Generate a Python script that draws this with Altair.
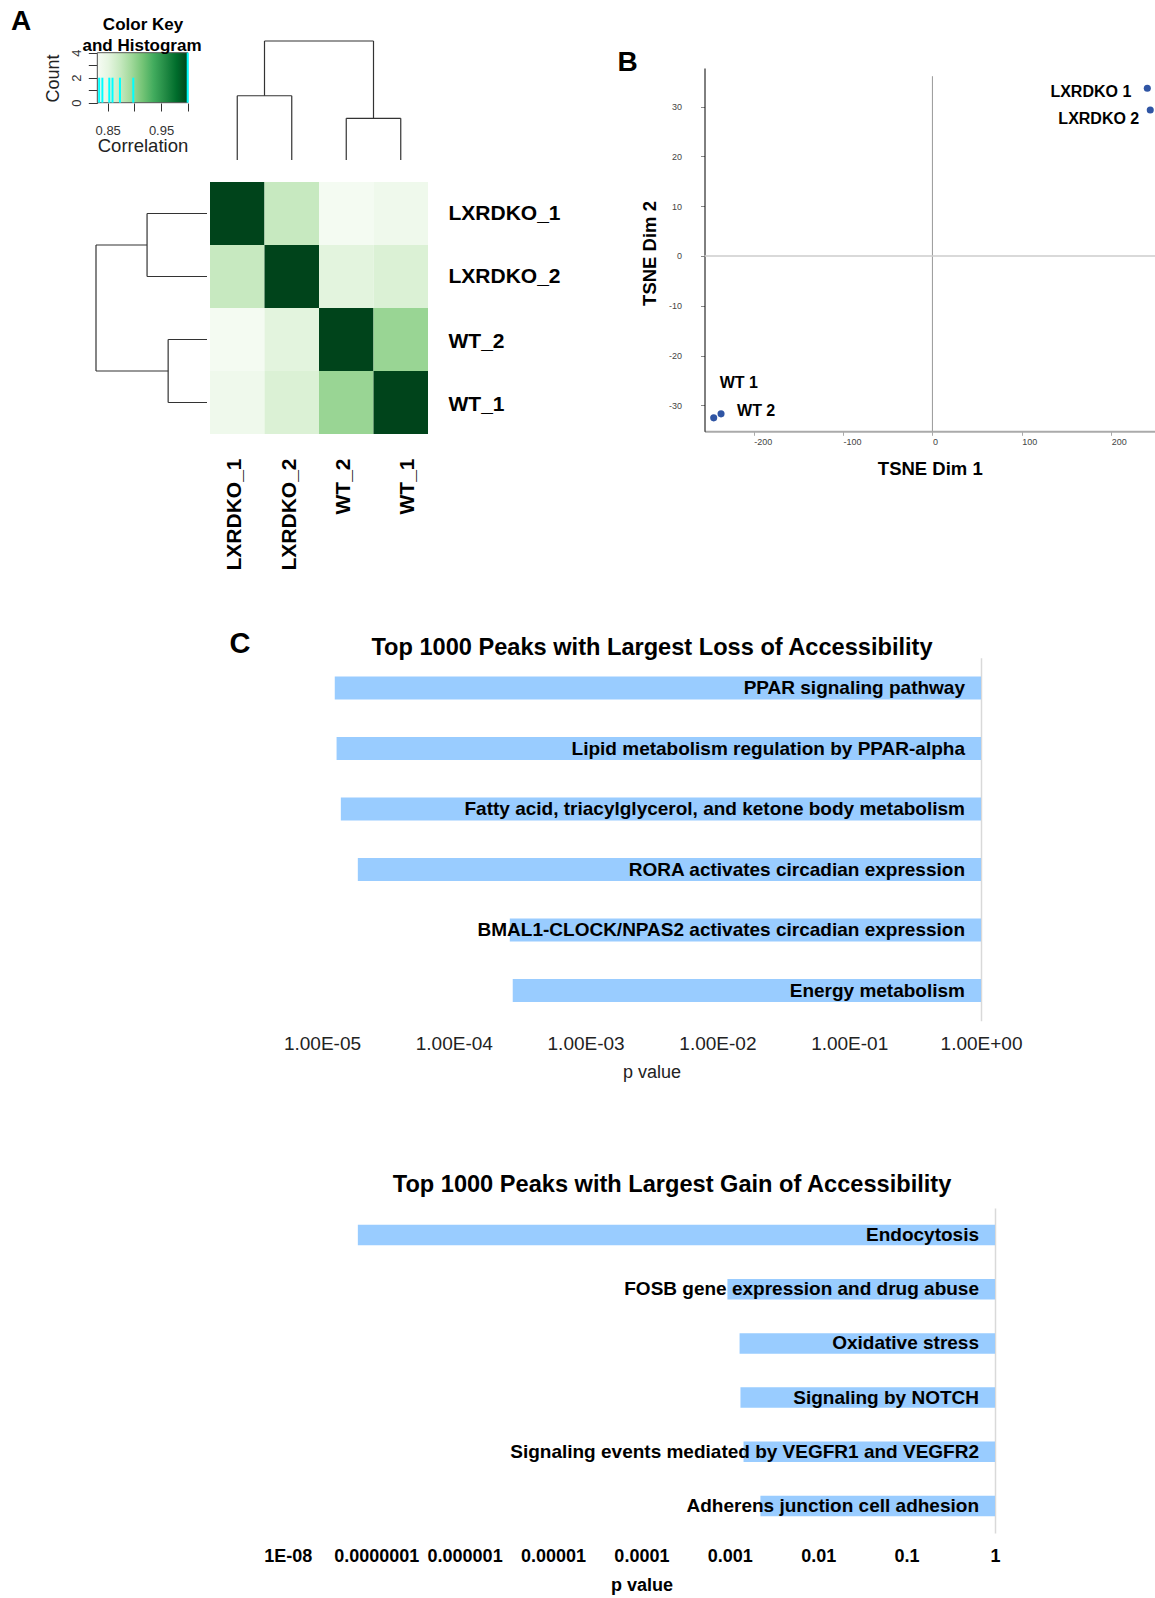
import altair as alt
import pandas as pd

FONT = "Liberation Sans"
W, H = 1155, 1598

# ---------------- Panel A : correlation heatmap ----------------
samples = ["LXRDKO_1", "LXRDKO_2", "WT_2", "WT_1"]
corr_LXRDKO_1 = [1.000, 0.873, 0.834, 0.840]
corr_LXRDKO_2 = [0.873, 1.000, 0.853, 0.859]
corr_WT_2 = [0.834, 0.853, 1.000, 0.898]
corr_WT_1 = [0.840, 0.859, 0.898, 1.000]
# hierarchical clustering merges (left, right, height)
merge_left = ["LXRDKO_1", "WT_2", "c1"]
merge_right = ["LXRDKO_2", "WT_1", "c2"]
merge_height = [0.108, 0.070, 0.200]
key_domain = [0.8305, 1.0]
key_ticks = [0.85, 0.90, 0.95, 1.00]
count_ticks = [0, 1, 2, 3, 4]
greens = ["#f7fcf5", "#e5f5e0", "#c7e9c0", "#a1d99b", "#74c476",
          "#41ab5d", "#238b45", "#006d2c", "#00441b"]

# ---------------- Panel B : tSNE ----------------
tsne_labels = ["LXRDKO 1", "LXRDKO 2", "WT 1", "WT 2"]
tsne_dim1 = [240.4, 243.7, -244.7, -236.5]
tsne_dim2 = [33.7, 29.3, -32.5, -31.7]
tsne_ticks_x = [-200, -100, 0, 100, 200]
tsne_ticks_y = [-30, -20, -10, 0, 10, 20, 30]

# ---------------- Panel C : pathway enrichment ----------------
loss_terms = ["PPAR signaling pathway",
              "Lipid metabolism regulation by PPAR-alpha",
              "Fatty acid, triacylglycerol, and ketone body metabolism",
              "RORA activates circadian expression",
              "BMAL1-CLOCK/NPAS2 activates circadian expression",
              "Energy metabolism"]
loss_p = [1.25e-5, 1.29e-5, 1.39e-5, 1.87e-5, 2.66e-4, 2.80e-4]
loss_ticks = [1e-5, 1e-4, 1e-3, 1e-2, 1e-1, 1]

gain_terms = ["Endocytosis",
              "FOSB gene expression and drug abuse",
              "Oxidative stress",
              "Signaling by NOTCH",
              "Signaling events mediated by VEGFR1 and VEGFR2",
              "Adherens junction cell adhesion"]
gain_p = [6.2e-8, 9.4e-4, 1.29e-3, 1.32e-3, 1.43e-3, 2.22e-3]
gain_ticks = [1e-8, 1e-7, 1e-6, 1e-5, 1e-4, 1e-3, 1e-2, 1e-1, 1]

# ---------------- data frames ----------------
corr_rows = [corr_LXRDKO_1, corr_LXRDKO_2, corr_WT_2, corr_WT_1]
heat_df = pd.DataFrame([{"row": r, "col": c, "corr": v}
                        for r, vals in zip(samples, corr_rows)
                        for c, v in zip(samples, vals)])
hist_df = heat_df.groupby("corr").size().reset_index(name="count")

node_pos = {s: float(i) for i, s in enumerate(samples)}
node_h = {s: 0.0 for s in samples}
segs = []
for k, (a, b, h) in enumerate(zip(merge_left, merge_right, merge_height)):
    for child in (a, b):
        segs.append({"p": node_pos[child], "p2": node_pos[child], "h": node_h[child], "h2": h})
    segs.append({"p": node_pos[a], "p2": node_pos[b], "h": h, "h2": h})
    node_pos[f"c{k + 1}"] = (node_pos[a] + node_pos[b]) / 2
    node_h[f"c{k + 1}"] = h
dend_df = pd.DataFrame(segs)

tsne_df = pd.DataFrame({"label": tsne_labels, "d1": tsne_dim1, "d2": tsne_dim2})
loss_df = pd.DataFrame({"term": loss_terms, "p": loss_p})
gain_df = pd.DataFrame({"term": gain_terms, "p": gain_p})

# ---------------- scales (explicit pixel ranges on one canvas) ----------------
color_stops = [key_domain[0] + i * (key_domain[1] - key_domain[0]) / 8 for i in range(9)]
sc_color = alt.Scale(domain=color_stops, range=greens, interpolate="rgb")
sc_hx = alt.Scale(domain=key_domain, range=[97.3, 187.7], nice=False, zero=False)
sc_hy = alt.Scale(domain=[0, 4], range=[102.7, 52.7], nice=False, zero=False)
sc_cx = alt.Scale(type="band", domain=samples, range=[210, 428], paddingInner=0, paddingOuter=0)
sc_cy = alt.Scale(type="band", domain=samples, range=[182, 434], paddingInner=0, paddingOuter=0)
sc_dcx = alt.Scale(domain=[-0.5, 3.5], range=[210, 428], nice=False, zero=False)
sc_dcy = alt.Scale(domain=[0, 0.2], range=[160, 41], nice=False, zero=False)
sc_dry = alt.Scale(domain=[-0.5, 3.5], range=[182, 434], nice=False, zero=False)
sc_drx = alt.Scale(domain=[0, 0.2], range=[207, 96], nice=False, zero=False)
sc_tx = alt.Scale(domain=[-255, 249], range=[704.5, 1155], nice=False, zero=False)
sc_ty = alt.Scale(domain=[-35.2, 37.75], range=[431.3, 68], nice=False, zero=False)
sc_lx = alt.Scale(type="log", domain=[1e-5, 1], range=[322, 981], nice=False)
sc_ly = alt.Scale(type="band", domain=loss_terms, range=[657.75, 1020.75],
                  paddingInner=0.62, paddingOuter=0.31)
sc_gx = alt.Scale(type="log", domain=[1e-8, 1], range=[287.8, 995], nice=False)
sc_gy = alt.Scale(type="band", domain=gain_terms, range=[1207.9, 1533.1],
                  paddingInner=0.622, paddingOuter=0.311)

HYPHEN = "replace(datum.label, '\u2212', '-')"


def text_at(txt, x, y, size, weight="bold", align="center"):
    return alt.Chart(pd.DataFrame({"t": [txt]})).mark_text(
        fontSize=size, fontWeight=weight, align=align, baseline="middle",
        font=FONT, color="black").encode(x=alt.value(x), y=alt.value(y), text="t:N")


layers = []

# ---- heatmap cells with sample axes ----
layers.append(alt.Chart(heat_df).mark_rect().encode(
    x=alt.X("col:N", sort=samples, scale=sc_cx,
            axis=alt.Axis(orient="bottom", offset=434 - H, labelAngle=270, labelAlign="right",
                          labelBaseline="middle", labelFontSize=21, labelFontWeight="bold",
                          labelColor="black", labelPadding=24, ticks=False, tickSize=0,
                          labelOffset=alt.condition("datum.value == 'WT_1'", alt.value(7.5), alt.value(-2)),
                          domain=False, title=None)),
    y=alt.Y("row:N", sort=samples, scale=sc_cy,
            axis=alt.Axis(orient="right", offset=428 - W, labelAlign="left",
                          labelBaseline="middle", labelFontSize=21, labelFontWeight="bold",
                          labelColor="black", labelPadding=20, ticks=False, tickSize=0,
                          labelOffset=alt.condition("indexof(datum.value, 'WT') == 0", alt.value(2.5), alt.value(0)),
                          domain=False, title=None)),
    color=alt.Color("corr:Q", scale=sc_color, legend=None),
))

# ---- dendrograms ----
layers.append(alt.Chart(dend_df).mark_rule(color="#333333", strokeWidth=1.2).encode(
    x=alt.X("p:Q", scale=sc_dcx, axis=None), x2="p2:Q",
    y=alt.Y("h:Q", scale=sc_dcy, axis=None), y2="h2:Q"))
layers.append(alt.Chart(dend_df).mark_rule(color="#333333", strokeWidth=1.2).encode(
    y=alt.Y("p:Q", scale=sc_dry, axis=None), y2="p2:Q",
    x=alt.X("h:Q", scale=sc_drx, axis=None), x2="h2:Q"))

# ---- color key box ----
key_fill = alt.Gradient(gradient="linear", x1=0, x2=1, y1=0, y2=0,
                        stops=[alt.GradientStop(color=c, offset=i / 8) for i, c in enumerate(greens)])
layers.append(alt.Chart(pd.DataFrame({"k": [0]})).mark_rect(
    fill=key_fill, stroke="#555555", strokeWidth=1).encode(
    x=alt.XDatum(key_domain[0], type="quantitative", scale=sc_hx, axis=None),
    x2=alt.X2Datum(key_domain[1]),
    y=alt.YDatum(0, type="quantitative", scale=sc_hy, axis=None),
    y2=alt.Y2Datum(4)))

# ---- histogram lines with key axes ----
layers.append(alt.Chart(hist_df).mark_rule(color="#00ffff", strokeWidth=2).encode(
    x=alt.X("corr:Q", scale=sc_hx,
            axis=alt.Axis(orient="bottom", offset=103 - H, values=key_ticks, tickSize=8,
                          tickColor="#333333", domain=False, grid=False,
                          labelExpr="(abs(datum.value-0.85)<0.001 || abs(datum.value-0.95)<0.001) ? format(datum.value, '.2f') : ''",
                          labelFontSize=13, labelColor="#333333", labelBaseline="middle",
                          labelPadding=19, title="Correlation", titleFontSize=18.5,
                          titleFontWeight="normal", titleColor="#222222",
                          titleY=42.7, titleBaseline="middle")),
    y=alt.Y("count:Q", scale=sc_hy,
            axis=alt.Axis(orient="left", offset=-97.3, values=count_ticks, tickSize=9,
                          tickColor="#333333", domainColor="#333333", grid=False,
                          labelExpr="datum.value % 2 == 0 ? datum.label : ''",
                          labelAngle=270, labelAlign="center", labelBaseline="middle",
                          labelFontSize=13, labelColor="#333333", labelPadding=11.6,
                          title="Count", titleFontSize=18, titleFontWeight="normal",
                          titleColor="#222222", titleAngle=270, titleAlign="center",
                          titleBaseline="middle", titleX=-44.3, titleY=78)),
    y2=alt.Y2Datum(0)))

# ---- panel B : zero lines ----
layers.append(alt.Chart(pd.DataFrame({"k": [0]})).mark_rule(color="#999999", strokeWidth=1).encode(
    x=alt.XDatum(0, type="quantitative", scale=sc_tx, axis=None),
    y=alt.YDatum(36.1, type="quantitative", scale=sc_ty, axis=None),
    y2=alt.Y2Datum(-35.2)))
layers.append(alt.Chart(pd.DataFrame({"k": [0]})).mark_rule(color="#cccccc", strokeWidth=1.5).encode(
    y=alt.YDatum(0, type="quantitative", scale=sc_ty, axis=None),
    x=alt.XDatum(-255, type="quantitative", scale=sc_tx, axis=None),
    x2=alt.X2Datum(249)))

# ---- panel B : points with axes ----
layers.append(alt.Chart(tsne_df).mark_circle(size=50, color="#2f55a4", opacity=1).encode(
    x=alt.X("d1:Q", scale=sc_tx,
            axis=alt.Axis(orient="bottom", offset=431.3 - H, values=tsne_ticks_x, tickSize=4,
                          tickColor="#aaaaaa", domainColor="#aaaaaa", domainWidth=2, grid=False,
                          labelAlign="left", labelBaseline="middle", labelPadding=6,
                          labelFontSize=9, labelColor="#444444", labelExpr=HYPHEN,
                          title="TSNE Dim 1", titleFontSize=18.5, titleFontWeight="bold",
                          titleColor="black", titleY=37, titleBaseline="middle")),
    y=alt.Y("d2:Q", scale=sc_ty,
            axis=alt.Axis(orient="left", offset=-704.5, values=tsne_ticks_y, tickSize=4,
                          tickColor="#888888", domainColor="black", domainWidth=1, grid=False,
                          labelAlign="right", labelBaseline="middle", labelPadding=19,
                          labelFontSize=9, labelColor="#444444", labelExpr=HYPHEN,
                          title="TSNE Dim 2", titleFontSize=18.5, titleFontWeight="bold",
                          titleColor="black", titleAngle=270, titleAlign="center",
                          titleBaseline="middle", titleX=-55, titleY=253)),
))

# ---- panel B : point labels ----
label_style = {"LXRDKO 1": ("right", -16, 4), "LXRDKO 2": ("right", -11, 9),
               "WT 1": ("left", 6, -35), "WT 2": ("left", 16, -3)}
for lab in tsne_labels:
    al, dx, dy = label_style[lab]
    layers.append(alt.Chart(tsne_df).transform_filter(alt.datum.label == lab).mark_text(
        align=al, baseline="middle", dx=dx, dy=dy, fontSize=16, fontWeight="bold",
        font=FONT, color="black").encode(
        x=alt.X("d1:Q", scale=sc_tx, axis=None),
        y=alt.Y("d2:Q", scale=sc_ty, axis=None),
        text="label:N"))

# ---- panel C : loss of accessibility ----
layers.append(alt.Chart(loss_df).mark_bar(color="#99ccff").encode(
    x=alt.X("p:Q", scale=sc_lx,
            axis=alt.Axis(orient="bottom", offset=1043 - H, values=loss_ticks, ticks=False,
                          tickSize=0, domain=False, grid=False,
                          labelExpr="'1.00E' + (round(log(datum.value)/LN10) < 0 ? '-' : '+') + '0' + abs(round(log(datum.value)/LN10))",
                          labelFontSize=19, labelColor="#222222", labelBaseline="middle",
                          labelPadding=0, title="p value", titleFontSize=18,
                          titleFontWeight="normal", titleColor="#222222",
                          titleY=29, titleBaseline="middle")),
    x2=alt.X2Datum(1),
    y=alt.Y("term:N", sort=loss_terms, scale=sc_ly,
            axis=alt.Axis(orient="left", offset=-981, labels=False, ticks=False, grid=False,
                          domainColor="#d9d9d9", domainWidth=1.5, title=None)),
))
layers.append(alt.Chart(loss_df).mark_text(
    align="right", baseline="middle", dx=-16, fontSize=19, fontWeight="bold",
    font=FONT, color="black").encode(
    x=alt.XDatum(1, type="quantitative", scale=sc_lx, axis=None),
    y=alt.Y("term:N", sort=loss_terms, scale=sc_ly, axis=None),
    text="term:N"))

# ---- panel C : gain of accessibility ----
layers.append(alt.Chart(gain_df).mark_bar(color="#99ccff").encode(
    x=alt.X("p:Q", scale=sc_gx,
            axis=alt.Axis(orient="bottom", offset=1556 - H, values=gain_ticks, ticks=False,
                          tickSize=0, domain=False, grid=False,
                          labelExpr="datum.value < 5e-8 ? '1E-08' : format(datum.value, '.7~f')",
                          labelFontSize=18, labelFontWeight="bold", labelColor="black",
                          labelBaseline="middle", labelPadding=0,
                          title="p value", titleFontSize=18, titleFontWeight="bold",
                          titleColor="black", titleY=29, titleBaseline="middle")),
    x2=alt.X2Datum(1),
    y=alt.Y("term:N", sort=gain_terms, scale=sc_gy,
            axis=alt.Axis(orient="left", offset=-995, labels=False, ticks=False, grid=False,
                          domainColor="#d9d9d9", domainWidth=1.5, title=None)),
))
layers.append(alt.Chart(gain_df).mark_text(
    align="right", baseline="middle", dx=-16, fontSize=19, fontWeight="bold",
    font=FONT, color="black").encode(
    x=alt.XDatum(1, type="quantitative", scale=sc_gx, axis=None),
    y=alt.Y("term:N", sort=gain_terms, scale=sc_gy, axis=None),
    text="term:N"))

# ---- titles and panel letters ----
layers += [
    text_at("A", 21, 22, 28),
    text_at("B", 627.5, 62.5, 28),
    text_at("C", 240, 644, 29),
    text_at("Color Key", 143, 25, 17),
    text_at("and Histogram", 142, 46, 17),
    text_at("Top 1000 Peaks with Largest Loss of Accessibility", 652, 648, 23.6),
    text_at("Top 1000 Peaks with Largest Gain of Accessibility", 672, 1185, 23.6),
]

chart = alt.layer(*layers).resolve_scale(
    x="independent", y="independent", color="independent"
).properties(
    width=W, height=H, padding=0, autosize=alt.AutoSizeParams(type="none")
).configure(font=FONT).configure_view(strokeWidth=0).configure_axis(
    labelFont=FONT, titleFont=FONT, labelFlush=False, labelOverlap=False, labelBound=False)

chart.save("out.html", embed_options={"renderer": "svg", "actions": False})
